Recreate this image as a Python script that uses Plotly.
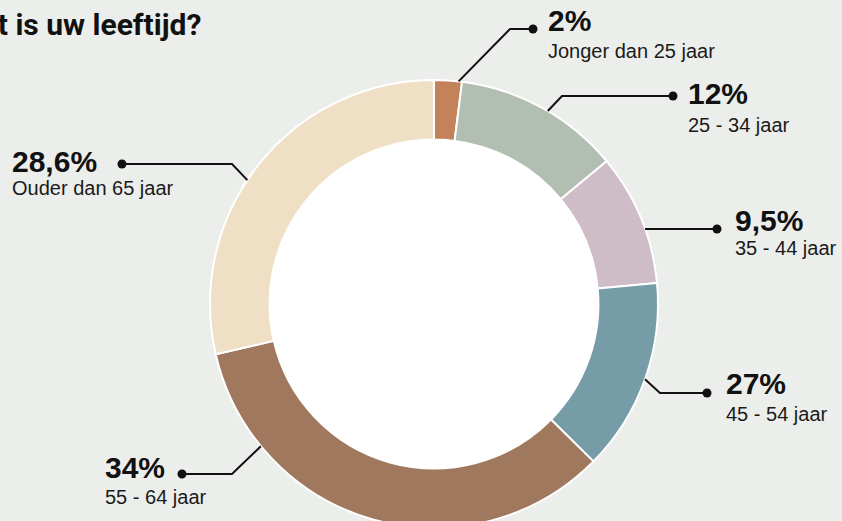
import math
import plotly.graph_objects as go

# ---------------- data ----------------
categories = ["Jonger dan 25 jaar", "25 - 34 jaar", "35 - 44 jaar",
              "45 - 54 jaar", "55 - 64 jaar", "Ouder dan 65 jaar"]
slice_values = [2, 12, 9.5, 13.9, 34, 28.6]          # slice sizes as drawn
value_labels = ["2%", "12%", "9,5%", "27%", "34%", "28,6%"]  # printed labels
colors = ["#C4825A", "#B3BEB2", "#CEBCC6", "#769DA7", "#A0785D", "#EFDFC5"]
title_text = "Wat is uw leeftijd?"

# ---------------- layout constants (pixels) ----------------
W, H = 842, 530
CX, CY, R = 434, 304, 224
HOLE = 0.734
BG = "rgb(236,238,235)"

# leader: position within slice (0..1), elbow (px) or None, dot (px),
# text-left x, big baseline y, small baseline y
leaders = [
    dict(frac=0.875, elbow=(510, 29), dot=(533, 29), tx=548, big=33, small=58),
    dict(frac=0.54, elbow=(562, 96), dot=(673, 96), tx=688, big=106, small=132),
    dict(frac=0.585, elbow=None, dot=(717, 229), tx=735, big=232, small=255),
    dict(frac=0.5, elbow=(660, 393), dot=(707, 393), tx=726, big=395, small=421),
    dict(frac=0.784, elbow=(232, 474), dot=(182, 474), tx=105, big=479, small=504),
    dict(frac=0.452, elbow=(232, 164), dot=(122, 164), tx=12, big=173, small=195),
]

BIG_FONT = dict(family="Liberation Sans", size=30, color="#111111", weight="bold")
SMALL_FONT = dict(family="Liberation Sans", size=20, color="#1a1a1a")


def px(x):
    return x / W


def py(y):
    return 1 - y / H


fig = go.Figure()
fig.add_trace(go.Pie(
    labels=categories,
    values=slice_values,
    sort=False,
    direction="clockwise",
    rotation=0,
    hole=HOLE,
    marker=dict(colors=colors, line=dict(color="white", width=2)),
    textinfo="none",
    hoverinfo="label+value",
    showlegend=False,
    domain=dict(x=[px(CX - R), px(CX + R)], y=[py(CY + R), py(CY - R)]),
))

shapes = []
annotations = []

# white centre
rin = R * HOLE + 2
shapes.append(dict(type="circle", xref="paper", yref="paper", layer="below",
                   x0=px(CX - rin), x1=px(CX + rin), y0=py(CY + rin), y1=py(CY - rin),
                   fillcolor="white", line=dict(width=0)))

total = sum(slice_values)
cum = 0
for v, lab, cat, L in zip(slice_values, value_labels, categories, leaders):
    ang = 2 * math.pi * (cum + L["frac"] * v) / total
    cum += v
    ax = CX + R * math.sin(ang)
    ay = CY - R * math.cos(ang)
    pts = [(ax, ay)]
    if L["elbow"]:
        pts.append(L["elbow"])
    pts.append(L["dot"])
    path = "M " + " L ".join(f"{px(x):.5f},{py(y):.5f}" for x, y in pts)
    shapes.append(dict(type="path", xref="paper", yref="paper", path=path,
                       line=dict(color="#111111", width=2)))
    dx, dy = L["dot"]
    rd = 4.5
    shapes.append(dict(type="circle", xref="paper", yref="paper",
                       x0=px(dx - rd), x1=px(dx + rd), y0=py(dy + rd), y1=py(dy - rd),
                       fillcolor="#111111", line=dict(width=0)))
    annotations.append(dict(text=lab, xref="paper", yref="paper", showarrow=False,
                            x=px(L["tx"] - 2), y=py(L["big"] - 12),
                            xanchor="left", yanchor="middle", font=BIG_FONT))
    annotations.append(dict(text=cat, xref="paper", yref="paper", showarrow=False,
                            x=px(L["tx"] - 2), y=py(L["small"] - 7.5),
                            xanchor="left", yanchor="middle", font=SMALL_FONT))

annotations.append(dict(text=title_text, xref="paper", yref="paper", showarrow=False,
                        x=px(-46), y=py(36 - 11), xanchor="left", yanchor="middle",
                        font=dict(family="Roboto", size=30, color="#111111", weight="bold")))

fig.update_layout(
    width=W, height=H,
    margin=dict(l=0, r=0, t=0, b=0),
    paper_bgcolor=BG,
    plot_bgcolor=BG,
    shapes=shapes,
    annotations=annotations,
)

fig.write_html(
    "out.html",
    config={"displayModeBar": False},
    post_script=("document.body.style.margin='0';"
                 "document.body.style.overflow='hidden';"
                 "document.documentElement.style.overflow='hidden';"
                 "document.body.style.background='" + BG + "';"),
)
